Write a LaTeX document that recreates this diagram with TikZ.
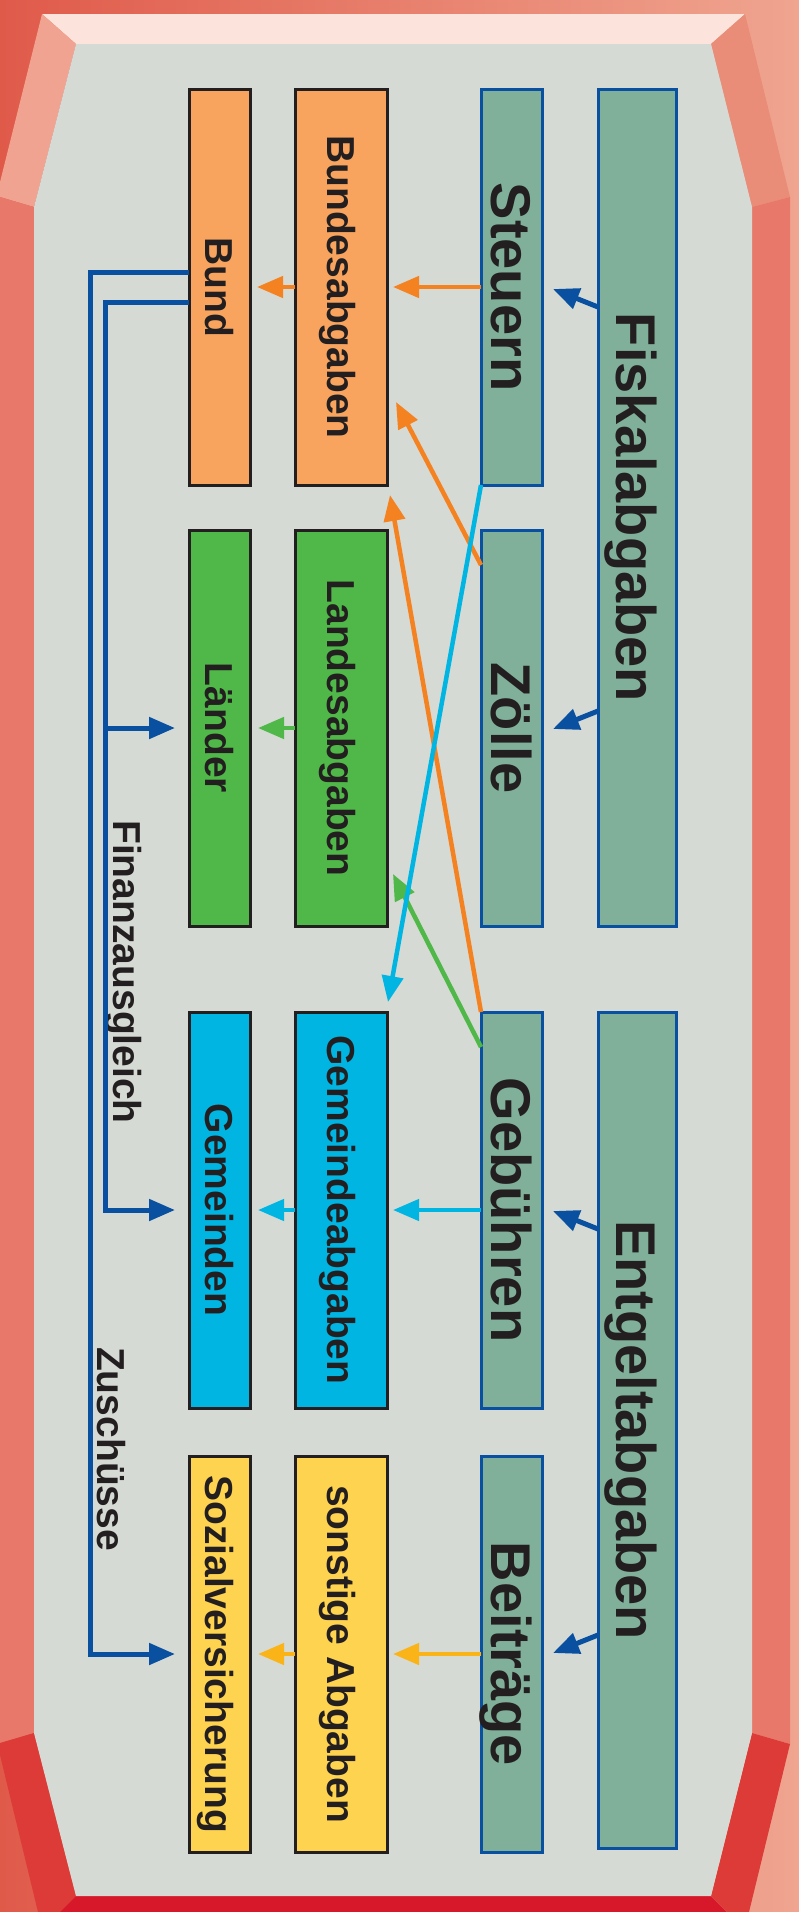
\documentclass[tikz,border=0pt]{standalone}
\usepackage{fontspec}
\usepackage{graphicx}
\setmainfont{Liberation Sans}
\usetikzlibrary{arrows.meta,calc}
\definecolor{grayBG}{HTML}{D5DAD4}
\definecolor{topF}{HTML}{FCE4DC}
\definecolor{tlF}{HTML}{F0A390}
\definecolor{trF}{HTML}{E98C78}
\definecolor{bandF}{HTML}{E8796A}
\definecolor{botF}{HTML}{DC3B37}
\definecolor{botB}{HTML}{D7182A}
\definecolor{frL}{HTML}{E05A4A}
\definecolor{frR}{HTML}{EFA590}
\definecolor{tealF}{HTML}{80B09A}
\definecolor{bblue}{HTML}{0A50A1}
\definecolor{orF}{HTML}{F8A45E}
\definecolor{grF}{HTML}{50B848}
\definecolor{cyF}{HTML}{00B5E2}
\definecolor{ylF}{HTML}{FED350}
\definecolor{orA}{HTML}{F58220}
\definecolor{ylA}{HTML}{FBB418}
\definecolor{txt}{HTML}{231F20}
\newcommand\vtxt[1]{\rotatebox{-90}{\raisebox{0pt}[0.716em][0pt]{#1}}}
\tikzset{
  box/.style={draw=txt, line width=3pt, inner sep=0pt, outer sep=0pt, text=txt,
    font=\bfseries\fontsize{39}{39}\selectfont},
  narrowbox/.style={box, minimum width=61pt, minimum height=396pt},
  widebox/.style={box, minimum width=92pt, minimum height=396pt},
  srcbox/.style={box, draw=bblue, fill=tealF, minimum width=61pt, minimum height=396pt,
    font=\bfseries\fontsize{56}{56}\selectfont},
  topbox/.style={box, draw=bblue, fill=tealF, minimum width=78pt, minimum height=837pt,
    font=\bfseries\fontsize{56}{56}\selectfont},
  lbl/.style={inner sep=0pt, outer sep=0pt, text=txt, font=\bfseries\fontsize{39}{39}\selectfont},
  conn/.style={line width=4.5pt, -{Triangle[length=26pt,width=21pt]}},
  orarr/.style={conn, draw=orA},
  grarr/.style={conn, draw=grF},
  cyarr/.style={conn, draw=cyF},
  ylarr/.style={conn, draw=ylA},
  blarr/.style={conn, draw=bblue, line width=5pt},
  blline/.style={conn, draw=bblue, line width=5pt}
}
\begin{document}
\begin{tikzpicture}[x=1pt,y=-1pt]
\useasboundingbox (0,0) rectangle (799,1912);
% frame
\shade[left color=frL, right color=frR] (0,0) rectangle (799,1912);
\fill[topF] (42,14) -- (745,14) -- (711,44) -- (76,44) -- cycle;
\fill[tlF] (42,14) -- (76,44) -- (34,207) -- (0,197) -- (0,182) -- cycle;
\fill[trF] (745,14) -- (711,44) -- (752,207) -- (790,197) -- cycle;
\fill[bandF] (0,197) -- (34,207) -- (34,1733) -- (0,1743) -- cycle;
\fill[bandF] (752,207) -- (790,197) -- (790,1744) -- (752,1733) -- cycle;
\fill[botF] (0,1743) -- (34,1733) -- (76,1896) -- (60,1912) -- (38,1912) -- (0,1755) -- cycle;
\fill[botB] (76,1896) -- (711,1896) -- (727,1912) -- (60,1912) -- cycle;
\fill[botF] (752,1733) -- (790,1744) -- (749,1912) -- (727,1912) -- (711,1896) -- cycle;
\fill[grayBG] (76,44) -- (711,44) -- (752,207) -- (752,1733) -- (711,1896) -- (76,1896) -- (34,1733) -- (34,207) -- cycle;

% boxes
\node[topbox] (fisk) at (637,507.5) {\vtxt{Fiskalabgaben}};
\node[topbox, minimum height=836pt] (entg) at (637,1430) {\vtxt{Entgeltabgaben}};

\node[srcbox] (steuern) at (511.5,287) {\vtxt{Steuern}};
\node[srcbox] (zoelle) at (511.5,728) {\vtxt{Zölle}};
\node[srcbox] (gebuehren) at (511.5,1210) {\vtxt{Gebühren}};
\node[srcbox] (beitraege) at (511.5,1654) {\vtxt{Beiträge}};

\node[widebox, fill=orF] (bundesab) at (341,287) {\vtxt{Bundesabgaben}};
\node[widebox, fill=grF] (landesab) at (341,728) {\vtxt{Landesabgaben}};
\node[widebox, fill=cyF] (gemeindeab) at (341,1210) {\vtxt{Gemeindeabgaben}};
\node[widebox, fill=ylF] (sonstige) at (341,1654) {\vtxt{sonstige Abgaben}};

\node[narrowbox, fill=orF] (bund) at (219.5,287) {\vtxt{Bund}};
\node[narrowbox, fill=grF] (laender) at (219.5,728) {\vtxt{Länder}};
\node[narrowbox, fill=cyF] (gemeinden) at (219.5,1210) {\vtxt{Gemeinden}};
\node[narrowbox, fill=ylF] (sozial) at (219.5,1654) {\vtxt{Sozialversicherung}};

\node[lbl] (finanz) at (127,972) {\vtxt{Finanzausgleich}};
\node[lbl] (zusch) at (111,1449) {\vtxt{Zuschüsse}};

% blue arrows from top boxes
\draw[blarr] ($(fisk.west|-steuern.center)+(0,20)$) -- ($(steuern.east)+(11,2)$);
\draw[blarr] ($(fisk.west|-zoelle.center)+(0,-17)$) -- ($(zoelle.east)+(11,1)$);
\draw[blarr] ($(entg.west|-gebuehren.center)+(0,19)$) -- ($(gebuehren.east)+(11,1)$);
\draw[blarr] ($(entg.west|-beitraege.center)+(0,-19)$) -- ($(beitraege.east)+(11,-1)$);

% horizontal flows
\draw[orarr] (steuern.west) -- ($(bundesab.east)+(6,0)$);
\draw[orarr] (bundesab.west) -- ($(bund.east)+(7,0)$);
\draw[grarr] (landesab.west) -- ($(laender.east)+(8,0)$);
\draw[cyarr] (gebuehren.west) -- ($(gemeindeab.east)+(6,0)$);
\draw[cyarr] (gemeindeab.west) -- ($(gemeinden.east)+(8,0)$);
\draw[ylarr] (beitraege.west) -- ($(sonstige.east)+(6,0)$);
\draw[ylarr] (sonstige.west) -- ($(sozial.east)+(8,0)$);

% diagonal flows
\draw[orarr] ($(zoelle.north west)+(0,35)$) -- ($(bundesab.south east)+(9,-83)$);
\draw[orarr] (gebuehren.north west) -- ($(bundesab.south east)+(3,10)$);
\draw[grarr] ($(gebuehren.north west)+(0,35)$) -- ($(landesab.south east)+(6,-52)$);
\draw[cyarr] (steuern.south west) -- ($(gemeindeab.north east)+(1,-10)$);

% Bund transfers
\coordinate (fx) at (105,0);
\draw[blline] ($(bund.north west)+(0,183)$) -- ++(-99,0) |- ($(sozial.west)+(-14,0)$);
\draw[blline] ($(bund.north west)+(0,213)$) -- ++(-84,0) |- ($(gemeinden.west)+(-14,0)$);
\draw[blline] (fx|-laender.west) -- ($(laender.west)+(-14,0)$);
\end{tikzpicture}
\end{document}
